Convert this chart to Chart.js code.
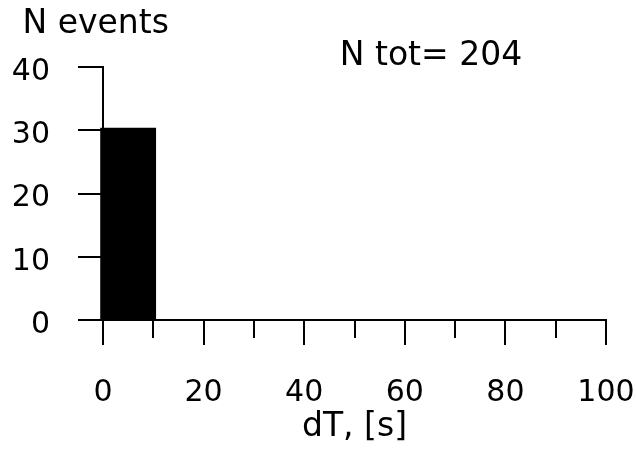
<!DOCTYPE html>
<html lang="en">
  <head>
    <meta charset="UTF-8" />
    <meta name="viewport" content="width=device-width, initial-scale=1.0" />
    <script src="https://cdn.jsdelivr.net/npm/chart.js@4.4.0/dist/chart.umd.min.js"></script>
    <title>dT histogram</title>
    <style>
      body { margin: 0; background: #fff; }
    </style>
  </head>
  <body>
    <canvas id="myChart" width="636" height="450"></canvas>
    <script>
      // histogram: bins of 10 s, centres and counts
      const binCenters = [5, 15, 25, 35, 45, 55, 65, 75, 85, 95];
      const binCounts = [30.4, 0, 0, 0, 0, 0, 0, 0, 0, 0];
      const totalEvents = 204;
      const xLabelStep = 20;
      const yLabelStep = 10;

      const fontFamily = "'DejaVu Sans', sans-serif";

      // free texts above the plot, placed in data units
      const notes = {
        id: "notes",
        afterDraw(chart) {
          const { ctx, scales } = chart;
          ctx.save();
          ctx.font = "33px " + fontFamily;
          ctx.fillStyle = "#000";
          ctx.textBaseline = "middle";
          ctx.textAlign = "left";
          ctx.fillText("N events", scales.x.getPixelForValue(-16), scales.y.getPixelForValue(46.7));
          ctx.textAlign = "center";
          ctx.fillText("N tot= " + totalEvents, scales.x.getPixelForValue(65.2), scales.y.getPixelForValue(41.7));
          ctx.restore();
        },
      };

      const ctx = document.getElementById("myChart").getContext("2d");
      const myChart = new Chart(ctx, {
        type: "bar",
        data: {
          datasets: [
            {
              data: binCenters.map((x, i) => ({ x: x, y: binCounts[i] })),
              backgroundColor: "#000",
              borderWidth: 0,
              barPercentage: 1.11,
              categoryPercentage: 1,
              clip: false,
            },
          ],
        },
        options: {
          responsive: false,
          animation: false,
          devicePixelRatio: 1,
          layout: { padding: { left: 8, right: 30, top: 67, bottom: 0 } },
          plugins: {
            legend: { display: false },
            tooltip: { enabled: false },
          },
          scales: {
            x: {
              type: "linear",
              min: 0,
              max: 100,
              offset: false,
              afterFit: (s) => {
                s.height = 130;
                s.paddingLeft = 0;
                s.paddingRight = 0;
              },
              ticks: {
                stepSize: 10,
                autoSkip: false,
                maxRotation: 0,
                padding: 30,
                color: "#000",
                font: { family: fontFamily, size: 30 },
                callback: (v) => (v % xLabelStep === 0 ? v : ""),
              },
              grid: {
                offset: false,
                drawOnChartArea: false,
                color: "#000",
                lineWidth: 2,
                tickLength: 25,
                tickBorderDash: (c) => (c.tick && c.tick.value % xLabelStep === 0 ? [] : [17, 100]),
              },
              border: { color: "#000", width: 2 },
              title: {
                display: true,
                text: "dT, [s]",
                color: "#000",
                font: { family: fontFamily, size: 33 },
                padding: { top: 0, bottom: 3 },
              },
            },
            y: {
              min: 0,
              max: 40,
              afterFit: (s) => {
                s.width = 95;
                s.paddingTop = 0;
                s.paddingBottom = 0;
              },
              ticks: {
                stepSize: 5,
                padding: 28,
                labelOffset: 5,
                color: "#000",
                font: { family: fontFamily, size: 30 },
                callback: (v) => (v % yLabelStep === 0 ? v : ""),
              },
              grid: {
                drawOnChartArea: false,
                color: "#000",
                lineWidth: 2,
                tickLength: 25,
                tickBorderDash: (c) => (c.tick && c.tick.value % yLabelStep === 0 ? [] : [0, 7, 18, 100]),
              },
              border: { color: "#000", width: 2 },
            },
          },
        },
        plugins: [notes],
      });
    </script>
  </body>
</html>
